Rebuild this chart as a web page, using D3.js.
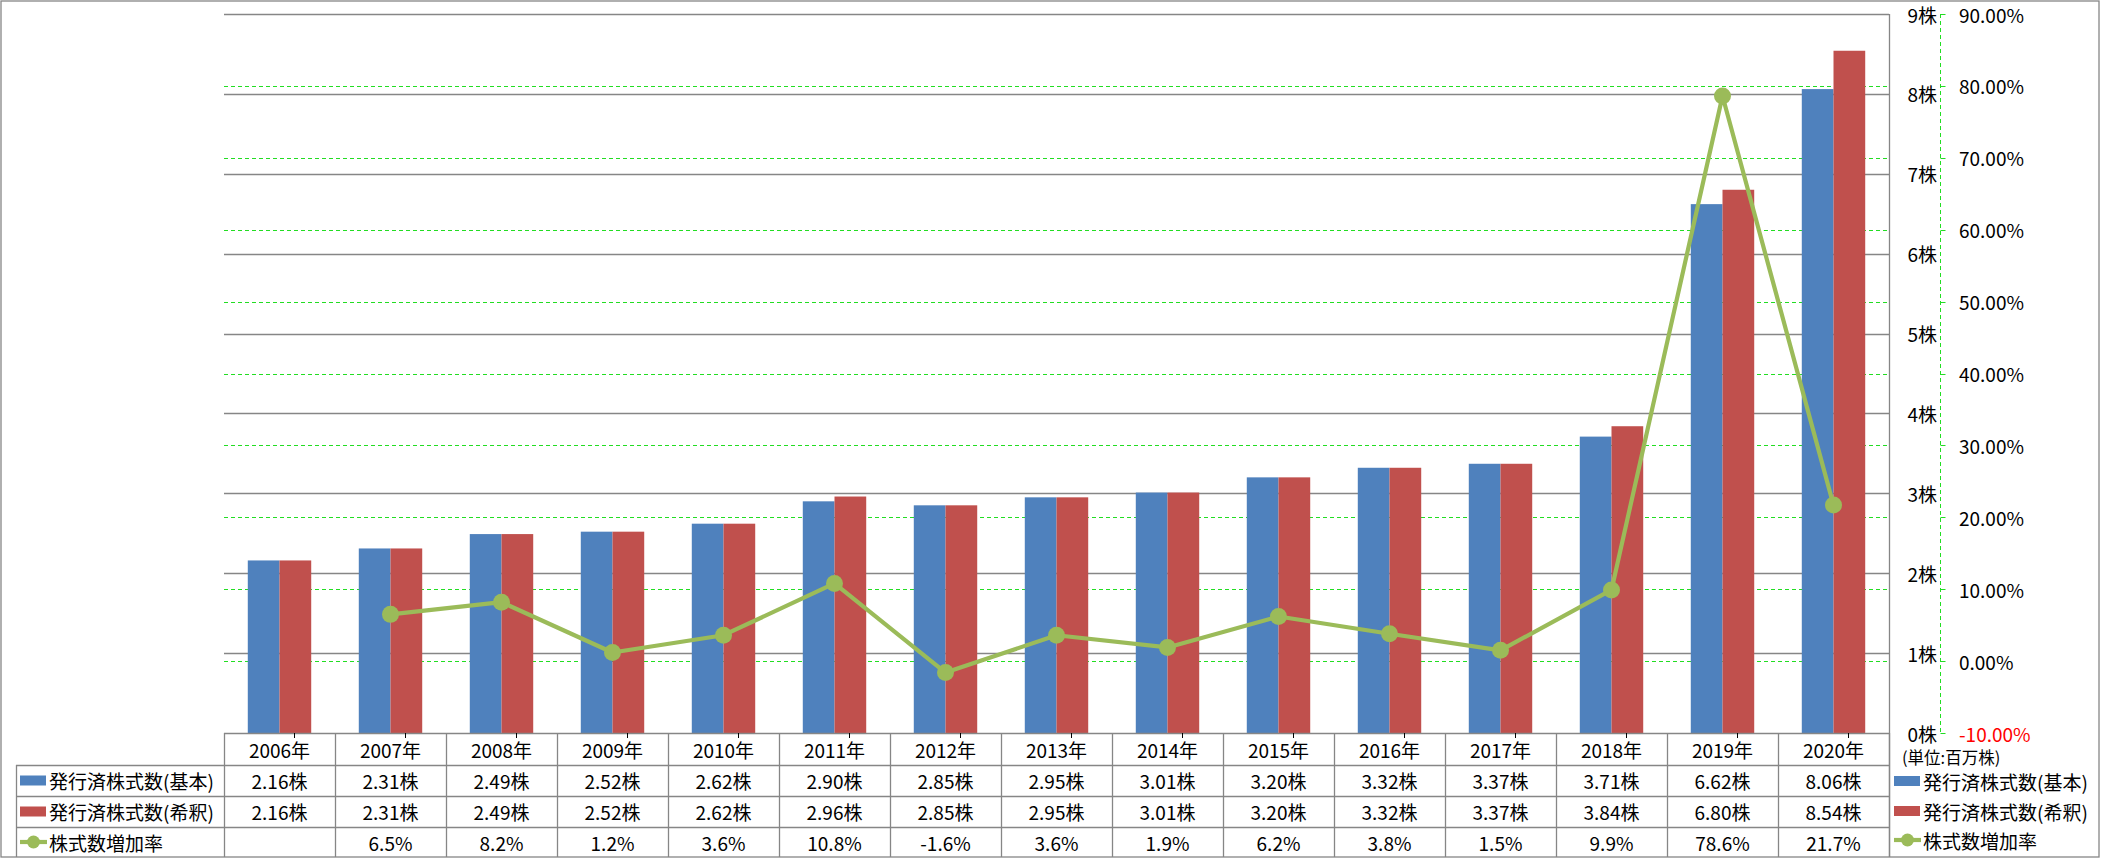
<!DOCTYPE html>
<html><head><meta charset="utf-8">
<script src="https://cdn.jsdelivr.net/npm/d3@7"></script>
<style>
html,body{margin:0;padding:0;background:#fff;}
svg text{font-family:"Noto Sans CJK JP","Noto Sans",sans-serif;fill:#000;}
</style></head>
<body><svg id="c" width="2101" height="858"></svg>
<script>
const years = ["2006年","2007年","2008年","2009年","2010年","2011年","2012年","2013年","2014年","2015年","2016年","2017年","2018年","2019年","2020年"];
const basic = [2.16,2.31,2.49,2.52,2.62,2.90,2.85,2.95,3.01,3.20,3.32,3.37,3.71,6.62,8.06];
const diluted = [2.16,2.31,2.49,2.52,2.62,2.96,2.85,2.95,3.01,3.20,3.32,3.37,3.84,6.80,8.54];
const growth = [null,6.5,8.2,1.2,3.6,10.8,-1.6,3.6,1.9,6.2,3.8,1.5,9.9,78.6,21.7];
const leftTicks = [0,1,2,3,4,5,6,7,8,9];
const rightTicks = [-10,0,10,20,30,40,50,60,70,80,90];
const seriesNames = ["発行済株式数(基本)","発行済株式数(希釈)","株式数増加率"];
const unitLabel = "(単位:百万株)";

const C_BLUE="#4F81BD", C_RED="#C0504D", C_GREEN="#9BBB59", C_GRID="#868686", C_DASH="#22DD22";
const L=224, R=1889, T=14, B=733;
const svg = d3.select("#c");

const x = d3.scaleBand().domain(years).range([L,R]).paddingInner(0).paddingOuter(0);
const xi = d3.scaleBand().domain([0,1]).range([0,x.bandwidth()]).paddingInner(0).paddingOuter(0.75);
const y = d3.scaleLinear().domain([0,9]).range([B,T]);
const y2 = d3.scaleLinear().domain([-10,90]).range([B,T]);

// outer frame
svg.append("rect").attr("x",1).attr("y",1).attr("width",2098).attr("height",856)
  .attr("fill","none").attr("stroke",C_GRID).attr("stroke-width",1.3);

// green dashed gridlines (secondary)
svg.append("g").selectAll("line").data(rightTicks.filter(d=>d>-10)).join("line")
  .attr("x1",L).attr("x2",R).attr("y1",d=>Math.round(y2(d))+0.5).attr("y2",d=>Math.round(y2(d))+0.5)
  .attr("stroke",C_DASH).attr("stroke-width",1).attr("stroke-dasharray","4,3");
// grey gridlines (primary)
svg.append("g").selectAll("line").data(leftTicks.filter(d=>d>0)).join("line")
  .attr("x1",L).attr("x2",R).attr("y1",d=>Math.round(y(d))+0.5).attr("y2",d=>Math.round(y(d))+0.5)
  .attr("stroke",C_GRID).attr("stroke-width",1.3);
// plot right border
svg.append("line").attr("x1",R+0.5).attr("x2",R+0.5).attr("y1",T).attr("y2",857)
  .attr("stroke",C_GRID).attr("stroke-width",1.3);

// bars
const gb = svg.append("g");
years.forEach((yr,i)=>{
  [basic[i],diluted[i]].forEach((v,j)=>{
    gb.append("rect").attr("x",x(yr)+xi(j)).attr("width",xi.bandwidth())
      .attr("y",y(v)).attr("height",B-y(v)).attr("fill",j===0?C_BLUE:C_RED);
  });
});

// line
const pts = years.map((yr,i)=>({x:x(yr)+x.bandwidth()/2, v:growth[i]})).filter(d=>d.v!==null);
svg.append("path").datum(pts)
  .attr("d",d3.line().x(d=>d.x).y(d=>y2(d.v)))
  .attr("fill","none").attr("stroke",C_GREEN).attr("stroke-width",4.2).attr("stroke-linejoin","round");
svg.append("g").selectAll("circle").data(pts).join("circle")
  .attr("cx",d=>d.x).attr("cy",d=>y2(d.v)).attr("r",8.5).attr("fill",C_GREEN);

// left axis labels (placed at right)
svg.append("g").selectAll("text").data(leftTicks).join("text")
  .attr("x",1937).attr("y",d=>y(d)).attr("text-anchor","end").attr("dominant-baseline","central")
  .attr("font-size",19).text(d=>d+"株");
// secondary axis line
const AX=1940.5;
svg.append("line").attr("x1",AX).attr("x2",AX).attr("y1",T).attr("y2",B)
  .attr("stroke",C_DASH).attr("stroke-width",1).attr("stroke-dasharray","4,3");
svg.append("g").selectAll("line").data(rightTicks).join("line")
  .attr("x1",AX).attr("x2",AX+5).attr("y1",d=>Math.round(y2(d))+0.5).attr("y2",d=>Math.round(y2(d))+0.5)
  .attr("stroke",C_DASH).attr("stroke-width",1);
svg.append("g").selectAll("text").data(rightTicks).join("text")
  .attr("x",1959).attr("y",d=>y2(d)).attr("dominant-baseline","central")
  .attr("font-size",19).style("fill",d=>d<0?"#FF0000":"#000").text(d=>d.toFixed(2)+"%");

// table
const rowsY=[733,765,796,827,857];
const gt = svg.append("g");
gt.append("line").attr("x1",L).attr("x2",R).attr("y1",rowsY[0]+0.5).attr("y2",rowsY[0]+0.5).attr("stroke",C_GRID).attr("stroke-width",1.3);
[1,2,3].forEach(k=>gt.append("line").attr("x1",16).attr("x2",R).attr("y1",rowsY[k]+0.5).attr("y2",rowsY[k]+0.5).attr("stroke",C_GRID).attr("stroke-width",1.3));
years.concat(["end"]).forEach((yr,i)=>{
  const xx = i<years.length ? x(yr) : R;
  gt.append("line").attr("x1",xx+0.5).attr("x2",xx+0.5).attr("y1",rowsY[0]).attr("y2",857).attr("stroke",C_GRID).attr("stroke-width",1.3);
});
gt.append("line").attr("x1",16.5).attr("x2",16.5).attr("y1",rowsY[1]).attr("y2",857).attr("stroke",C_GRID).attr("stroke-width",1.3);
// small black ticks
years.forEach(yr=>{
  gt.append("line").attr("x1",x(yr)+70.5).attr("x2",x(yr)+70.5).attr("y1",B).attr("y2",B+5).attr("stroke","#000").attr("stroke-width",1);
});
const cy = k=>(rowsY[k]+rowsY[k+1])/2;
years.forEach((yr,i)=>{
  const cx=x(yr)+x.bandwidth()/2;
  gt.append("text").attr("x",cx).attr("y",cy(0)).attr("text-anchor","middle").attr("dominant-baseline","central").attr("font-size",19).text(yr);
  gt.append("text").attr("x",cx).attr("y",cy(1)).attr("text-anchor","middle").attr("dominant-baseline","central").attr("font-size",19).text(basic[i].toFixed(2)+"株");
  gt.append("text").attr("x",cx).attr("y",cy(2)).attr("text-anchor","middle").attr("dominant-baseline","central").attr("font-size",19).text(diluted[i].toFixed(2)+"株");
  if(growth[i]!==null) gt.append("text").attr("x",cx).attr("y",cy(3)).attr("text-anchor","middle").attr("dominant-baseline","central").attr("font-size",19).text(growth[i].toFixed(1)+"%");
});
function legendKey(g,x0,yc,k){
  if(k<2){
    g.append("rect").attr("x",x0).attr("y",yc-5).attr("width",26).attr("height",10).attr("fill",k===0?C_BLUE:C_RED);
  } else {
    g.append("line").attr("x1",x0).attr("x2",x0+27).attr("y1",yc).attr("y2",yc).attr("stroke",C_GREEN).attr("stroke-width",4.2);
    g.append("circle").attr("cx",x0+13.5).attr("cy",yc).attr("r",6.5).attr("fill",C_GREEN);
  }
}
seriesNames.forEach((n,k)=>{
  legendKey(gt,20,cy(k+1),k);
  gt.append("text").attr("x",49).attr("y",cy(k+1)).attr("dominant-baseline","central").attr("font-size",19).text(n);
});
const rl = svg.append("g");
const rly=[781,811,840];
seriesNames.forEach((n,k)=>{
  legendKey(rl,1894,rly[k],k);
  rl.append("text").attr("x",1923).attr("y",rly[k]).attr("dominant-baseline","central").attr("font-size",19).text(n);
});
svg.append("text").attr("x",1902).attr("y",757).attr("dominant-baseline","central").attr("font-size",16.5).text(unitLabel);
</script></body></html>
